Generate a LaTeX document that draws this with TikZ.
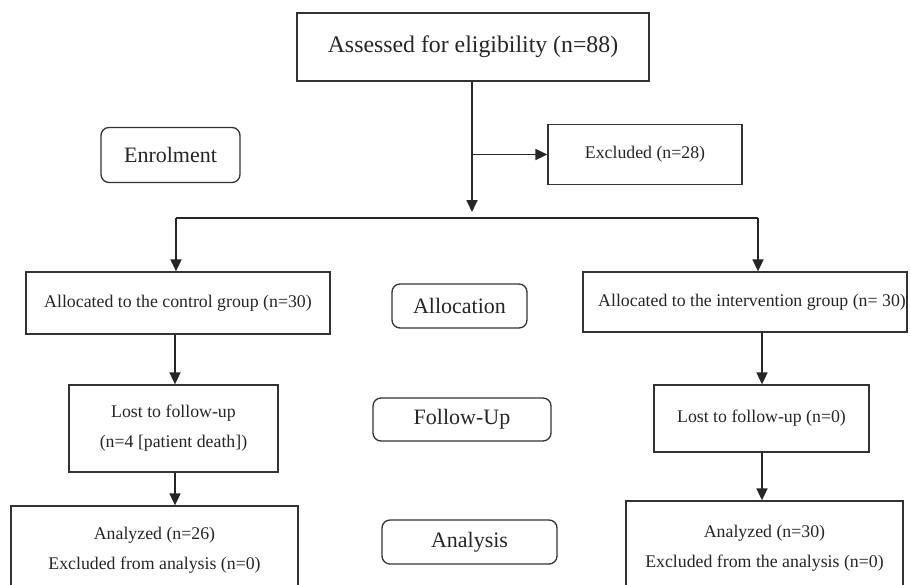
\documentclass[tikz,border=0pt]{standalone}
\usepackage{fontspec}
\setmainfont{Liberation Serif}
\usetikzlibrary{arrows.meta}
\tikzset{
  sbox/.style={draw=black!80, line width=1.3pt, inner sep=0pt, align=center,
    font=\fontsize{17.8}{30}\selectfont, text=black!85},
  lbl/.style={draw=black!80, line width=1.3pt, rounded corners=8pt, inner sep=0pt,
    align=center, font=\fontsize{22}{26}\selectfont, text=black!85},
  conn/.style={draw=black!85, line width=1.7pt},
  arr/.style={conn, -{Triangle[length=12pt,width=11pt]}}
}
\begin{document}
\begin{tikzpicture}[x=1pt,y=-1pt]
\useasboundingbox (0,0) rectangle (910,584);
\clip (0,0) rectangle (910,584);
\fill[white] (0,0) rectangle (910,584);

\node[sbox, minimum width=352pt, minimum height=68pt, font=\fontsize{23.8}{28}\selectfont] (top) at (473,47) {Assessed for eligibility (n=88)};
\node[sbox, minimum width=194pt, minimum height=60pt] (excl) at (645,154.5) {Excluded (n=28)};
\node[lbl, minimum width=139pt, minimum height=55pt] (enrol) at (170.5,155) {Enrolment};
\node[sbox, minimum width=304pt, minimum height=62pt] (ctrl) at (178,303) {Allocated to the control group (n=30)};
\node[lbl, minimum width=135pt, minimum height=44pt] (alloc) at (459.5,306) {Allocation};
\node[sbox, minimum width=324pt, minimum height=60pt] (interv) at (745,302) {\hspace*{14pt}Allocated to the intervention group (n= 30)};
\node[sbox, minimum width=209pt, minimum height=87pt] (lostL) at (173.5,428.5) {Lost to follow-up\\(n=4 [patient death])};
\node[lbl, minimum width=178pt, minimum height=43pt] (follow) at (462,419.5) {Follow-Up};
\node[sbox, minimum width=215pt, minimum height=67pt] (lostR) at (761.5,418.5) {Lost to follow-up (n=0)};
\node[sbox, minimum width=287pt, minimum height=88pt] (anaL) at (154.5,550) {Analyzed (n=26)\\Excluded from analysis (n=0)};
\node[lbl, minimum width=175pt, minimum height=44pt] (anal) at (469.5,542) {Analysis};
\node[sbox, minimum width=277pt, minimum height=94pt] (anaR) at (764.5,548) {Analyzed (n=30)\\Excluded from the analysis (n=0)};

\coordinate (split) at (472,212);
\coordinate (hl) at (176,218);
\coordinate (hr) at (758,218);
\coordinate (cl) at (175,0);
\coordinate (cr) at (762,0);

\draw[arr] (top.south -| split) -- (split);
\draw[arr] (split |- excl.west) -- (excl.west);
\draw[conn] (hl) -- (hr);
\draw[arr] (hl) -- (hl |- ctrl.north);
\draw[arr] (hr) -- (hr |- interv.north);
\draw[arr] (cl |- ctrl.south) -- (cl |- lostL.north);
\draw[arr] (cl |- lostL.south) -- (cl |- anaL.north);
\draw[arr] (cr |- interv.south) -- (cr |- lostR.north);
\draw[arr] (cr |- lostR.south) -- (cr |- anaR.north);
\end{tikzpicture}
\end{document}
